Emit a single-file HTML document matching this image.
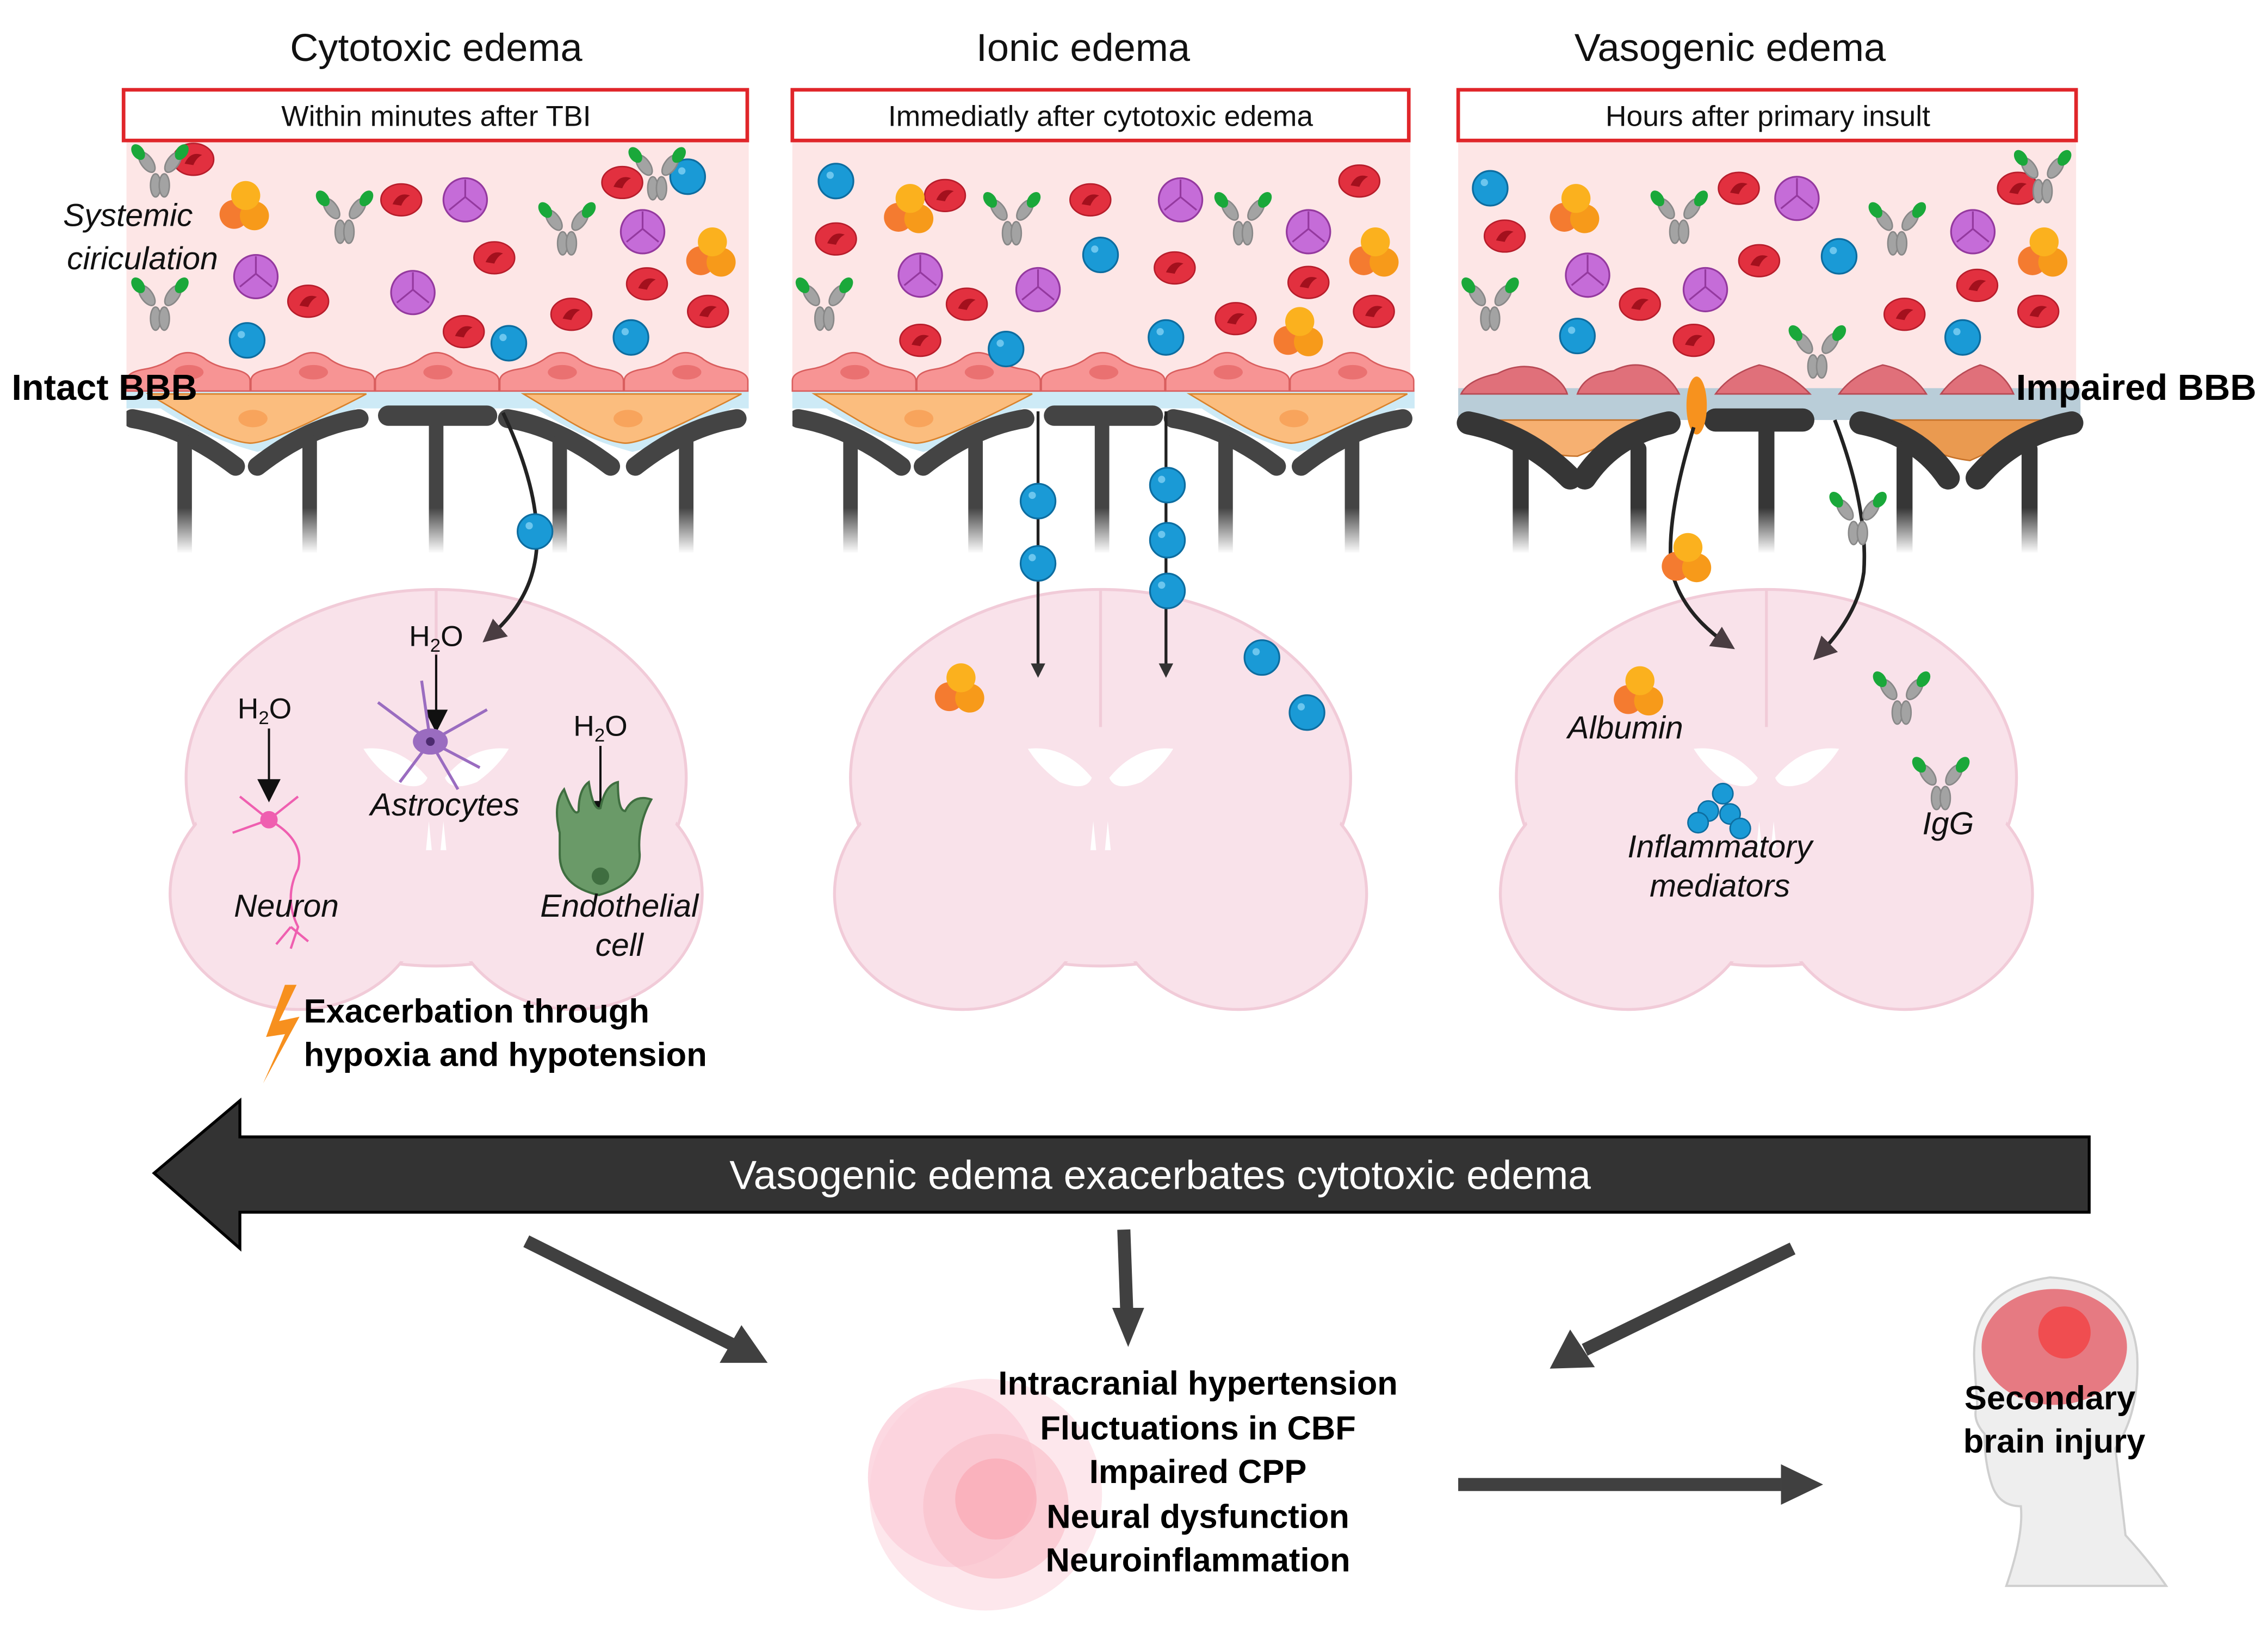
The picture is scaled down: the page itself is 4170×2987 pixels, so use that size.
<!DOCTYPE html>
<html><head><meta charset="utf-8"><style>
html,body{margin:0;padding:0;background:#fff;}
svg{display:block;}
text{font-family:"Liberation Sans",sans-serif;}
</style></head><body>
<svg width="4170" height="2987" viewBox="0 0 1560 1122" preserveAspectRatio="none" xmlns="http://www.w3.org/2000/svg">
<defs>
<g id="rbc"><ellipse rx="14" ry="11" fill="#e2303f" stroke="#b71d2b" stroke-width="1"/><path d="M-6,3 Q-2,-6 6,-3 Q2,-1 0,4 Z" fill="#a3101d"/></g>
<g id="wbc"><circle r="12" fill="#1a9ad6" stroke="#0d6da0" stroke-width="1.2"/><circle cx="-4" cy="-4" r="2.5" fill="#6cc6ee"/></g>
<g id="plt"><circle r="15" fill="#c56cd8" stroke="#94399f" stroke-width="1.2"/><path d="M0,-2 L0,-14 M0,-2 L-11,7 M0,-2 L11,7" stroke="#94399f" stroke-width="1.2" fill="none"/></g>
<g id="alb"><circle cx="-7" cy="5" r="10" fill="#f47b30"/><circle cx="7" cy="6" r="10" fill="#f79a1a"/><circle cx="1" cy="-8" r="10" fill="#fbb11e"/></g>
<g id="ab"><g stroke="#888" stroke-width="1" fill="#a3a3a3"><ellipse cx="-9" cy="-8" rx="4" ry="8" transform="rotate(-35 -9 -8)"/><ellipse cx="9" cy="-8" rx="4" ry="8" transform="rotate(35 9 -8)"/><ellipse cx="-3" cy="8" rx="3.5" ry="8"/><ellipse cx="3" cy="8" rx="3.5" ry="8"/></g><ellipse cx="-15" cy="-15" rx="4" ry="6" fill="#1aa83a" transform="rotate(-35 -15 -15)"/><ellipse cx="15" cy="-15" rx="4" ry="6" fill="#1aa83a" transform="rotate(35 15 -15)"/></g>
<g id="endo"><path d="M0,270 L0,263 Q0,257 12,255 Q24,253 32,247 Q42,240 53,247 Q60,253 73,255 Q85,257 85,263 L85,270 Z" fill="#f79494" stroke="#d95e5e" stroke-width="1"/><ellipse cx="43" cy="257" rx="10" ry="5" fill="#ea7171"/></g>
<linearGradient id="fade" x1="0" y1="0" x2="0" y2="1"><stop offset="0" stop-color="#fff"/><stop offset="0.72" stop-color="#fff"/><stop offset="1" stop-color="#000"/></linearGradient>
<mask id="fm" maskUnits="userSpaceOnUse" x="0" y="270" width="1560" height="115"><rect x="0" y="270" width="1560" height="112" fill="url(#fade)"/></mask>
<g id="bbb">
 <rect x="0" y="268" width="428" height="14" fill="#cdeaf6"/>
 <path d="M10,272 L170,272 Q140,300 90,312 Q45,300 10,272 Z" fill="#cdeaf6"/>
 <path d="M268,272 L428,272 Q398,300 348,312 Q303,300 268,272 Z" fill="#cdeaf6"/>
 <use href="#endo" x="0"/><use href="#endo" x="85.6"/><use href="#endo" x="171.2"/><use href="#endo" x="256.8"/><use href="#endo" x="342.4"/>
 <path d="M15,272 L165,272 Q150,280 125,292 Q95,306 85,306 Q70,305 45,290 Q25,278 15,272 Z" fill="#fbbd7e" stroke="#d9822c" stroke-width="1"/><ellipse cx="87" cy="289" rx="10" ry="6" fill="#f8a45c"/>
 <path d="M273,272 L423,272 Q408,280 383,292 Q353,306 343,306 Q328,305 303,290 Q283,278 273,272 Z" fill="#fbbd7e" stroke="#d9822c" stroke-width="1"/><ellipse cx="345" cy="289" rx="10" ry="6" fill="#f8a45c"/>
 <g mask="url(#fm)" fill="none" stroke="#444" stroke-linecap="round">
  <path d="M4,289 Q40,295 75,322" stroke-width="13"/><path d="M40,305 L40,390" stroke-width="10"/>
  <path d="M160,289 Q124,295 90,322" stroke-width="13"/><path d="M126,305 L126,390" stroke-width="10"/>
  <path d="M180,287 L248,287" stroke-width="14"/><path d="M213,287 L213,390" stroke-width="10"/>
  <path d="M262,289 Q298,295 333,322" stroke-width="13"/><path d="M298,305 L298,390" stroke-width="10"/>
  <path d="M420,289 Q384,295 350,322" stroke-width="13"/><path d="M385,305 L385,390" stroke-width="10"/>
 </g>
</g>
<g id="brain">
 <g fill="#f9e2ea" stroke="#f1cbd8" stroke-width="2">
  <ellipse cx="0" cy="-15" rx="172" ry="130"/>
  <ellipse cx="-95" cy="65" rx="88" ry="80"/>
  <ellipse cx="95" cy="65" rx="88" ry="80"/>
 </g>
 <ellipse cx="0" cy="-15" rx="170" ry="128" fill="#f9e2ea"/>
 <ellipse cx="-95" cy="65" rx="86" ry="78" fill="#f9e2ea"/>
 <ellipse cx="95" cy="65" rx="86" ry="78" fill="#f9e2ea"/>
 <path d="M0,-145 L0,-50" stroke="#f1cbd8" stroke-width="2"/>
 <path d="M-50,-35 Q-25,-38 -6,-15 Q-10,-5 -28,-12 Q-42,-22 -50,-35 Z M50,-35 Q25,-38 6,-15 Q10,-5 28,-12 Q42,-22 50,-35 Z" fill="#fff"/>
 <path d="M-5,15 L-3,35 L-7,35 Z M5,15 L3,35 L7,35 Z" fill="#fff"/>
</g>
<marker id="ah" markerWidth="10" markerHeight="10" refX="8" refY="5" orient="auto" markerUnits="userSpaceOnUse"><path d="M0,0 L10,5 L0,10 Z" fill="#333"/></marker>
<marker id="ah2" markerWidth="16" markerHeight="16" refX="12" refY="8" orient="auto" markerUnits="userSpaceOnUse"><path d="M0,0 L16,8 L0,16 Z" fill="#4a3d42"/></marker>
</defs>

<g font-size="27" text-anchor="middle" fill="#111">
<text x="300" y="42">Cytotoxic edema</text>
<text x="745" y="42">Ionic edema</text>
<text x="1190" y="42">Vasogenic edema</text>
</g>

<rect x="87" y="97" width="428" height="175" fill="#fde6e6"/>
<rect x="545" y="97" width="425" height="175" fill="#fde6e6"/>
<rect x="1003" y="97" width="425" height="190" fill="#fde6e6"/>

<g fill="#fff" stroke="#e0262a" stroke-width="2.5">
<rect x="85" y="62" width="429" height="35"/>
<rect x="545" y="62" width="424" height="35"/>
<rect x="1003" y="62" width="425" height="35"/>
</g>
<g font-size="20" text-anchor="middle" fill="#111">
<text x="300" y="87">Within minutes after TBI</text>
<text x="757" y="87">Immediatly after cytotoxic edema</text>
<text x="1216" y="87">Hours after primary insult</text>
</g>

<use href="#bbb" x="87"/>
<use href="#bbb" x="545"/>
<g>
 <rect x="1003" y="268" width="428" height="22" fill="#b9cdd8"/>
 <g fill="#e0707a" stroke="#b84a55" stroke-width="1">
  <path d="M1005,272 Q1010,262 1030,258 Q1045,250 1060,255 Q1075,262 1078,272 Z"/>
  <path d="M1085,272 Q1090,258 1110,256 Q1125,248 1140,256 Q1150,262 1155,272 Z"/>
  <path d="M1180,272 Q1190,258 1210,252 Q1230,256 1245,272 Z"/>
  <path d="M1265,272 Q1275,258 1295,252 Q1315,256 1325,272 Z"/>
  <path d="M1335,272 Q1345,258 1362,252 Q1378,256 1385,272 Z"/>
 </g>
 <path d="M1015,290 L1130,290 Q1110,305 1085,315 Q1060,315 1035,300 Z" fill="#f6b071" stroke="#c7732a"/>
 <path d="M1290,290 L1405,290 Q1385,305 1355,318 Q1330,315 1310,300 Z" fill="#ea9a50" stroke="#c7732a"/>
 <g mask="url(#fm)" fill="none" stroke="#363636" stroke-linecap="round">
  <path d="M1010,292 Q1050,300 1080,330" stroke-width="16"/><path d="M1046,310 L1046,390" stroke-width="11"/>
  <path d="M1148,292 Q1110,300 1090,330" stroke-width="16"/><path d="M1127,310 L1127,390" stroke-width="11"/>
  <path d="M1180,290 L1240,290" stroke-width="16"/><path d="M1215,290 L1215,390" stroke-width="11"/>
  <path d="M1280,292 Q1320,300 1340,330" stroke-width="16"/><path d="M1310,310 L1310,390" stroke-width="11"/>
  <path d="M1425,292 Q1385,300 1360,330" stroke-width="16"/><path d="M1396,310 L1396,390" stroke-width="11"/>
 </g>
 <ellipse cx="1167" cy="280" rx="7" ry="20" fill="#f7921e"/>
</g>

<use href="#rbc" x="133" y="110"/><use href="#rbc" x="276" y="138"/><use href="#rbc" x="340" y="178"/><use href="#rbc" x="212" y="208"/><use href="#rbc" x="319" y="229"/><use href="#rbc" x="393" y="217"/><use href="#rbc" x="445" y="196"/><use href="#rbc" x="428" y="126"/><use href="#rbc" x="487" y="215"/>
<use href="#wbc" x="170" y="235"/><use href="#wbc" x="350" y="237"/><use href="#wbc" x="434" y="233"/><use href="#wbc" x="473" y="122"/>
<use href="#plt" x="176" y="191"/><use href="#plt" x="320" y="138"/><use href="#plt" x="284" y="202"/><use href="#plt" x="442" y="160"/>
<use href="#alb" x="168" y="143"/><use href="#alb" x="489" y="175"/>
<use href="#ab" x="110" y="120"/><use href="#ab" x="237" y="152"/><use href="#ab" x="390" y="160"/><use href="#ab" x="110" y="212"/><use href="#ab" x="452" y="122"/>
<use href="#rbc" x="575" y="165"/><use href="#rbc" x="650" y="135"/><use href="#rbc" x="750" y="138"/><use href="#rbc" x="808" y="185"/><use href="#rbc" x="665" y="210"/><use href="#rbc" x="850" y="220"/><use href="#rbc" x="900" y="195"/><use href="#rbc" x="935" y="125"/><use href="#rbc" x="945" y="215"/><use href="#rbc" x="633" y="235"/>
<use href="#wbc" x="575" y="125"/><use href="#wbc" x="692" y="241"/><use href="#wbc" x="757" y="176"/><use href="#wbc" x="802" y="233"/>
<use href="#plt" x="633" y="190"/><use href="#plt" x="714" y="200"/><use href="#plt" x="812" y="138"/><use href="#plt" x="900" y="160"/>
<use href="#alb" x="625" y="145"/><use href="#alb" x="945" y="175"/><use href="#alb" x="893" y="230"/>
<use href="#ab" x="567" y="212"/><use href="#ab" x="696" y="153"/><use href="#ab" x="855" y="153"/>
<use href="#rbc" x="1035" y="163"/><use href="#rbc" x="1196" y="130"/><use href="#rbc" x="1128" y="210"/><use href="#rbc" x="1210" y="180"/><use href="#rbc" x="1310" y="217"/><use href="#rbc" x="1360" y="197"/><use href="#rbc" x="1388" y="130"/><use href="#rbc" x="1402" y="215"/><use href="#rbc" x="1165" y="235"/>
<use href="#wbc" x="1025" y="130"/><use href="#wbc" x="1085" y="232"/><use href="#wbc" x="1265" y="177"/><use href="#wbc" x="1350" y="233"/>
<use href="#plt" x="1092" y="190"/><use href="#plt" x="1236" y="137"/><use href="#plt" x="1173" y="200"/><use href="#plt" x="1357" y="160"/>
<use href="#alb" x="1083" y="145"/><use href="#alb" x="1405" y="175"/>
<use href="#ab" x="1025" y="212"/><use href="#ab" x="1155" y="152"/><use href="#ab" x="1305" y="160"/><use href="#ab" x="1405" y="124"/><use href="#ab" x="1250" y="245"/>

<g font-size="25" font-weight="bold" fill="#000">
<text x="8" y="276">Intact BBB</text>
<text x="1552" y="276" text-anchor="end">Impaired BBB</text>
</g>
<g font-size="22" font-style="italic" fill="#111" text-anchor="middle">
<text x="88" y="156">Systemic</text><text x="98" y="186">ciriculation</text>
</g>

<use href="#brain" x="300" y="552"/>
<use href="#brain" x="757" y="552"/>
<use href="#brain" x="1215" y="552"/>

<path d="M346,285 Q372,340 369,380 Q366,415 335,441" fill="none" stroke="#222" stroke-width="2.5" marker-end="url(#ah2)"/>
<use href="#wbc" x="368" y="367"/>
<g font-size="20" fill="#111" text-anchor="middle">
<text x="300" y="446">H<tspan font-size="13" dy="4">2</tspan><tspan dy="-4">O</tspan></text>
<text x="182" y="496">H<tspan font-size="13" dy="4">2</tspan><tspan dy="-4">O</tspan></text>
<text x="413" y="508">H<tspan font-size="13" dy="4">2</tspan><tspan dy="-4">O</tspan></text>
</g>
<g stroke="#111" stroke-width="1.5">
<line x1="300" y1="452" x2="300" y2="492"/><line x1="185" y1="503" x2="185" y2="540"/><line x1="413" y1="515" x2="413" y2="555"/>
</g>
<g fill="#111"><path d="M292,490 L308,490 L300,506 Z"/><path d="M177,538 L193,538 L185,554 Z"/><path d="M405,553 L421,553 L413,569 Z"/></g>
<g stroke="#9a6cc0" stroke-width="2" fill="none"><path d="M296,512 L260,485 M296,512 L275,540 M296,512 L335,490 M296,512 L330,530 M296,512 L290,470 M296,512 L315,545"/></g>
<ellipse cx="296" cy="512" rx="12" ry="9" fill="#9a6cc0"/><circle cx="296" cy="512" r="3" fill="#4d2b70"/>
<g stroke="#ef5fb0" stroke-width="1.6" fill="none"><path d="M185,566 L165,550 M185,566 L160,575 M185,566 L205,550 M185,566 Q210,580 205,600 Q195,620 205,640 L200,655 M200,640 L190,652 M200,640 L212,650"/></g>
<circle cx="185" cy="566" r="6" fill="#ef5fb0"/>
<path d="M385,575 Q380,555 388,545 Q395,565 398,560 Q398,545 405,540 Q408,560 413,558 Q416,542 425,540 Q425,560 430,560 Q436,548 448,552 Q438,570 440,590 Q440,610 412,618 Q385,612 385,590 Z" fill="#6a9a68" stroke="#3f6e40" stroke-width="1.5"/>
<circle cx="413" cy="605" r="6" fill="#3f6e40"/>
<g font-size="22" font-style="italic" fill="#111" text-anchor="middle">
<text x="306" y="563">Astrocytes</text>
<text x="197" y="633">Neuron</text>
<text x="426" y="633">Endothelial</text><text x="426" y="660">cell</text>
</g>
<path d="M196,680 L183,716 L196,714 L181,748 L206,702 L192,705 L204,680 Z" fill="#f7901e"/>
<g font-size="23" font-weight="bold" fill="#000">
<text x="209" y="706">Exacerbation through</text>
<text x="209" y="736">hypoxia and hypotension</text>
</g>

<g stroke="#222" stroke-width="2" marker-end="url(#ah)">
<line x1="714" y1="284" x2="714" y2="466"/><line x1="802" y1="284" x2="802" y2="466"/>
</g>
<use href="#wbc" x="714" y="346"/><use href="#wbc" x="714" y="389"/><use href="#wbc" x="803" y="335"/><use href="#wbc" x="803" y="373"/><use href="#wbc" x="803" y="408"/>
<use href="#alb" x="660" y="476"/><use href="#wbc" x="868" y="454"/><use href="#wbc" x="899" y="492"/>

<path d="M1165,295 Q1145,360 1150,395 Q1158,425 1190,446" fill="none" stroke="#222" stroke-width="2.5" marker-end="url(#ah2)"/>
<path d="M1262,290 Q1285,350 1282,395 Q1278,425 1250,453" fill="none" stroke="#222" stroke-width="2.5" marker-end="url(#ah2)"/>
<use href="#alb" x="1160" y="386"/><use href="#ab" x="1278" y="360"/>
<use href="#alb" x="1127" y="478"/><use href="#ab" x="1308" y="484"/><use href="#ab" x="1335" y="543"/>
<g fill="#1a9ad6" stroke="#0d6da0"><circle cx="1185" cy="548" r="7"/><circle cx="1175" cy="560" r="7"/><circle cx="1190" cy="562" r="7"/><circle cx="1168" cy="568" r="7"/><circle cx="1197" cy="572" r="7"/></g>
<g font-size="22" font-style="italic" fill="#111" text-anchor="middle">
<text x="1118" y="510">Albumin</text>
<text x="1340" y="576">IgG</text>
<text x="1183" y="592">Inflammatory</text><text x="1183" y="619">mediators</text>
</g>

<path d="M106,810 L165,760 L165,785 L1437,785 L1437,837 L165,837 L165,862 Z" fill="#333" stroke="#000" stroke-width="2"/>
<text x="798" y="821" font-size="28" fill="#fff" text-anchor="middle">Vasogenic edema exacerbates cytotoxic edema</text>

<g stroke="#404040" stroke-width="9" fill="none">
<line x1="362" y1="857" x2="505" y2="929"/>
<line x1="773" y1="849" x2="775" y2="905"/>
<line x1="1233" y1="862" x2="1090" y2="932"/>
<line x1="1003" y1="1025" x2="1225" y2="1025"/>
</g>
<g fill="#404040">
<path d="M528,941 L495,941 L510,915 Z"/>
<path d="M776,930 L765,903 L787,903 Z"/>
<path d="M1066,945 L1080,918 L1097,944 Z"/>
<path d="M1254,1025 L1225,1011 L1225,1039 Z"/>
</g>

<circle cx="678" cy="1032" r="80" fill="#fde4ea" opacity="0.9"/>
<ellipse cx="655" cy="1020" rx="58" ry="62" fill="#fbd0db" opacity="0.8"/>
<circle cx="685" cy="1040" r="50" fill="#fac2cc" opacity="0.7"/>
<circle cx="685" cy="1035" r="28" fill="#f9a9b5" opacity="0.7"/>
<g font-size="23" font-weight="bold" fill="#000" text-anchor="middle">
<text x="824" y="963">Intracranial hypertension</text>
<text x="824" y="994">Fluctuations in CBF</text>
<text x="824" y="1024">Impaired CPP</text>
<text x="824" y="1055">Neural dysfunction</text>
<text x="824" y="1085">Neuroinflammation</text>
</g>

<path d="M1358,940 Q1355,890 1410,882 Q1465,885 1470,935 Q1472,975 1455,1000 L1462,1060 Q1480,1080 1490,1095 L1380,1095 Q1392,1060 1390,1040 Q1375,1040 1370,1025 Q1365,1010 1365,990 Q1356,980 1360,970 Z" fill="#eeeeee" stroke="#cfcfcf" stroke-width="1.5"/>
<ellipse cx="1413" cy="930" rx="50" ry="40" fill="#e67a82"/>
<circle cx="1420" cy="920" r="18" fill="#f43a3a" opacity="0.7"/>
<g font-size="23" font-weight="bold" fill="#000" text-anchor="middle">
<text x="1410" y="973">Secondary</text>
<text x="1413" y="1003">brain injury</text>
</g>
</svg>
</body></html>
